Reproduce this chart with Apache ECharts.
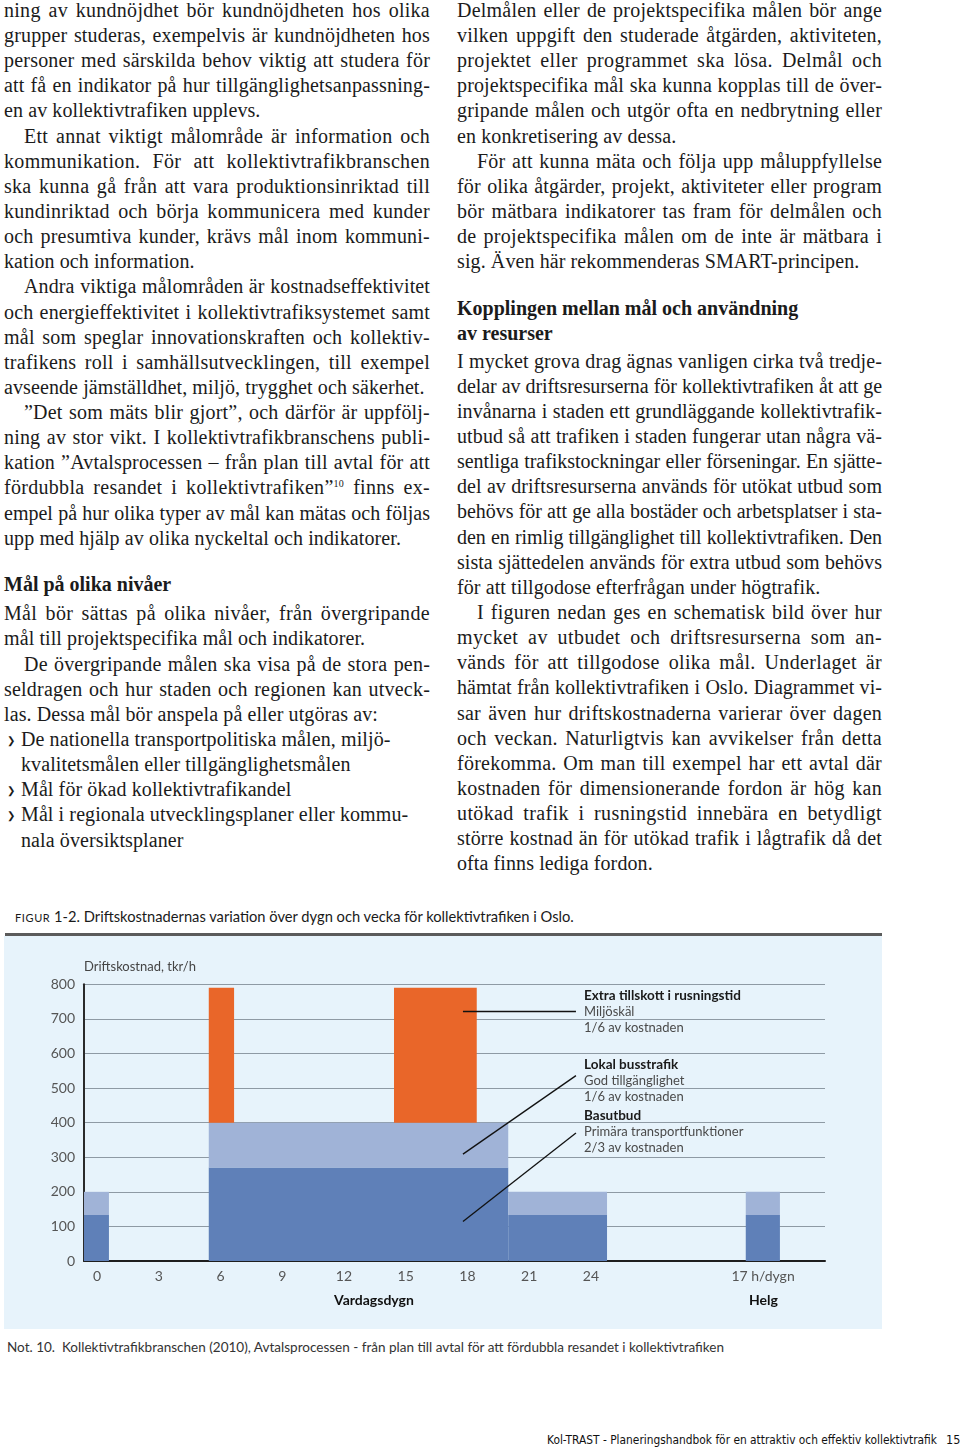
<!DOCTYPE html>
<html><head><meta charset="utf-8">
<script src="https://cdn.jsdelivr.net/npm/echarts@6/dist/echarts.min.js"></script>
<style>
html,body{margin:0;padding:0}
body{width:960px;height:1447px;position:relative;background:#fff;overflow:hidden}
.col{position:absolute;top:-2.2px;font-family:"Liberation Serif",serif;font-size:20px;line-height:25.14px;color:#1b1b1b}
#lc{left:4px;width:426px}
#rc{left:457px;width:425px}
.l{white-space:nowrap;position:relative}
.t{white-space:nowrap;letter-spacing:0.1px}
.ind{padding-left:20px}
.h{font-weight:bold;font-size:20px;white-space:nowrap}
.bl{padding-left:17px}
.bm{position:absolute;left:3px;top:1px;font-family:"DejaVu Sans",sans-serif;font-size:10px;color:#1b1b1b}
sup{font-size:10px;line-height:0;vertical-align:7px}
#cap{position:absolute;left:15px;top:907px;font-family:Lato,sans-serif;font-size:14.7px;line-height:18px;color:#1a1a1a;white-space:nowrap}
#cap .sc{font-variant:small-caps;letter-spacing:0.6px;font-size:15px}
#rule{position:absolute;left:5px;top:933px;width:877px;height:2.5px;background:#5b5b5b}
#chart{position:absolute;left:4px;top:936px;width:878px;height:393px}
#note{position:absolute;left:7px;top:1339px;font-family:Lato,sans-serif;font-size:13px;line-height:16px;color:#333;white-space:nowrap;transform-origin:0 0}
#foot{position:absolute;left:547px;top:1432px;font-family:"Liberation Sans Narrow","DejaVu Sans Condensed",sans-serif;font-size:12.5px;line-height:16px;color:#111;white-space:nowrap;transform-origin:0 0}
#pg{position:absolute;left:946px;top:1432px;font-family:"Liberation Sans Narrow","DejaVu Sans Condensed",sans-serif;font-size:12.5px;line-height:16px;color:#111}
</style></head>
<body>
<div id="lc" class="col">
<div class="l j">ning av kundnöjdhet bör kundnöjdheten hos olika</div>
<div class="l j">grupper studeras, exempelvis är kundnöjdheten hos</div>
<div class="l j">personer med särskilda behov viktig att studera för</div>
<div class="l j">att få en indikator på hur tillgänglighetsanpassning-</div>
<div class="l">en av kollektivtrafiken upplevs.</div>
<div class="l j ind">Ett annat viktigt målområde är information och</div>
<div class="l j">kommunikation. För att kollektivtrafikbranschen</div>
<div class="l j">ska kunna gå från att vara produktionsinriktad till</div>
<div class="l j">kundinriktad och börja kommunicera med kunder</div>
<div class="l j">och presumtiva kunder, krävs mål inom kommuni-</div>
<div class="l">kation och information.</div>
<div class="l j ind">Andra viktiga målområden är kostnadseffektivitet</div>
<div class="l j">och energieffektivitet i kollektivtrafiksystemet samt</div>
<div class="l j">mål som speglar innovationskraften och kollektiv-</div>
<div class="l j">trafikens roll i samhällsutvecklingen, till exempel</div>
<div class="l">avseende jämställdhet, miljö, trygghet och säkerhet.</div>
<div class="l j ind">”Det som mäts blir gjort”, och därför är uppfölj-</div>
<div class="l j">ning av stor vikt. I kollektivtrafikbranschens publi-</div>
<div class="l j">kation ”Avtalsprocessen – från plan till avtal för att</div>
<div class="l j">fördubbla resandet i kollektivtrafiken”<sup>10</sup> finns ex-</div>
<div class="l j">empel på hur olika typer av mål kan mätas och följas</div>
<div class="l">upp med hjälp av olika nyckeltal och indikatorer.</div>
<div class="h" style="margin-top:21px;margin-bottom:4.2px;line-height:25.14px">Mål på olika nivåer</div>
<div class="l j">Mål bör sättas på olika nivåer, från övergripande</div>
<div class="l">mål till projektspecifika mål och indikatorer.</div>
<div class="l j ind">De övergripande målen ska visa på de stora pen-</div>
<div class="l j">seldragen och hur staden och regionen kan utveck-</div>
<div class="l">las. Dessa mål bör anspela på eller utgöras av:</div>
<div class="l bl"><span class="bm">❯</span>De nationella transportpolitiska målen, miljö-</div>
<div class="l bl">kvalitetsmålen eller tillgänglighetsmålen</div>
<div class="l bl"><span class="bm">❯</span>Mål för ökad kollektivtrafikandel</div>
<div class="l bl"><span class="bm">❯</span>Mål i regionala utvecklingsplaner eller kommu-</div>
<div class="l bl">nala översiktsplaner</div>
</div>

<div id="rc" class="col">
<div class="l j">Delmålen eller de projektspecifika målen bör ange</div>
<div class="l j">vilken uppgift den studerade åtgärden, aktiviteten,</div>
<div class="l j">projektet eller programmet ska lösa. Delmål och</div>
<div class="l j">projektspecifika mål ska kunna kopplas till de över-</div>
<div class="l j">gripande målen och utgör ofta en nedbrytning eller</div>
<div class="l">en konkretisering av dessa.</div>
<div class="l j ind">För att kunna mäta och följa upp måluppfyllelse</div>
<div class="l j">för olika åtgärder, projekt, aktiviteter eller program</div>
<div class="l j">bör mätbara indikatorer tas fram för delmålen och</div>
<div class="l j">de projektspecifika målen om de inte är mätbara i</div>
<div class="l">sig. Även här rekommenderas SMART-principen.</div>
<div class="h" style="margin-top:21.8px;margin-bottom:2.1px;line-height:25.14px">Kopplingen mellan mål och användning<br>av resurser</div>
<div class="l j">I mycket grova drag ägnas vanligen cirka två tredje-</div>
<div class="l j">delar av driftsresurserna för kollektivtrafiken åt att ge</div>
<div class="l j">invånarna i staden ett grundläggande kollektivtrafik-</div>
<div class="l j">utbud så att trafiken i staden fungerar utan några vä-</div>
<div class="l j">sentliga trafikstockningar eller förseningar. En sjätte-</div>
<div class="l j">del av driftsresurserna används för utökat utbud som</div>
<div class="l j">behövs för att ge alla bostäder och arbetsplatser i sta-</div>
<div class="l j">den en rimlig tillgänglighet till kollektivtrafiken. Den</div>
<div class="l j">sista sjättedelen används för extra utbud som behövs</div>
<div class="l">för att tillgodose efterfrågan under högtrafik.</div>
<div class="l j ind">I figuren nedan ges en schematisk bild över hur</div>
<div class="l j">mycket av utbudet och driftsresurserna som an-</div>
<div class="l j">vänds för att tillgodose olika mål. Underlaget är</div>
<div class="l j">hämtat från kollektivtrafiken i Oslo. Diagrammet vi-</div>
<div class="l j">sar även hur driftskostnaderna varierar över dagen</div>
<div class="l j">och veckan. Naturligtvis kan avvikelser från detta</div>
<div class="l j">förekomma. Om man till exempel har ett avtal där</div>
<div class="l j">kostnaden för dimensionerande fordon är hög kan</div>
<div class="l j">utökad trafik i rusningstid innebära en betydligt</div>
<div class="l j">större kostnad än för utökad trafik i lågtrafik då det</div>
<div class="l">ofta finns lediga fordon.</div>
</div>

<div id="cap"><span class="sc">figur</span> 1-2. Driftskostnadernas variation över dygn och vecka för kollektivtrafiken i Oslo.</div>
<div id="rule"></div>
<div id="chart"></div>
<div id="note">Not. 10.&nbsp; Kollektivtrafikbranschen (2010), Avtalsprocessen - från plan till avtal för att fördubbla resandet i kollektivtrafiken</div>
<div id="foot">Kol-TRAST - Planeringshandbok för en attraktiv och effektiv kollektivtrafik</div>
<div id="pg">15</div>

<script>
// ---- data ----
const blockStart = [-0.632, 5.43, 19.98, 31.52];
const blockEnd   = [0.58, 19.98, 24.78, 33.18];
const basutbud   = [133, 270, 133, 133];
const lokalTop   = [200, 400, 200, 200];
const rushStart  = [5.43, 14.43];
const rushEnd    = [6.66, 18.45];
const rushBase   = [400, 400];
const rushTop    = [790, 790];
const xTickValues = [0, 3, 6, 9, 12, 15, 18, 21, 24, 32.36];
const xTickLabels = ['0', '3', '6', '9', '12', '15', '18', '21', '24', '17 h/dygn'];
const leaderFrom = [[17.78, 723], [17.78, 309], [17.78, 114]];
const leaderTo   = [[23.27, 723], [23.27, 536], [23.27, 370]];
const noteTitles = ['Extra tillskott i rusningstid', 'Lokal busstrafik', 'Basutbud'];
const noteLine1  = ['Miljöskäl', 'God tillgänglighet', 'Primära transportfunktioner'];
const noteLine2  = ['1/6 av kostnaden', '1/6 av kostnaden', '2/3 av kostnaden'];
const noteTop    = [61, 130, 181];

// ---- text fitting ----
function fitLines(){
  document.querySelectorAll('.l').forEach(el => {
    const marker = el.querySelector('.bm');
    if (marker) marker.remove();
    el.innerHTML = '<span class="t">' + el.innerHTML.trim() + '</span>';
    if (marker) el.insertBefore(marker, el.firstChild);
    const span = el.querySelector('.t');
    const cs = getComputedStyle(el);
    const W = el.clientWidth - parseFloat(cs.paddingLeft);
    let w = span.getBoundingClientRect().width;
    const txt = span.textContent;
    const n = txt.length;
    const ns = (txt.match(/ /g) || []).length;
    let ls = 0.1;
    if (w > W) {
      ls = 0.1 - (w - W + 2) / n;
      span.style.letterSpacing = ls + 'px';
      w = span.getBoundingClientRect().width;
    } else if (el.classList.contains('j')) {
      const add = Math.min(0.35, (W - w) * 0.35 / n);
      ls = 0.1 + add;
      span.style.letterSpacing = ls + 'px';
      w = span.getBoundingClientRect().width;
    }
    if (el.classList.contains('j') && ns > 0) {
      span.style.wordSpacing = ((W - w) / ns) + 'px';
    }
  });
  function scaleTo(id, target){
    const el = document.getElementById(id);
    const w = el.getBoundingClientRect().width;
    el.style.transform = 'scaleX(' + (target / w) + ')';
  }
  scaleTo('note', 717);
  scaleTo('foot', 390);
}
fitLines();

// ---- chart ----
const blockBase = blockStart.map((s, i) => [s, blockEnd[i], 0, basutbud[i]]);
const blockLokal = blockStart.map((s, i) => [s, blockEnd[i], basutbud[i], lokalTop[i]]);
const blockRush = rushStart.map((s, i) => [s, rushEnd[i], rushBase[i], rushTop[i]]);

function rectRender(color){
  return function(params, api){
    const p0 = api.coord([api.value(0), api.value(2)]);
    const p1 = api.coord([api.value(1), api.value(3)]);
    return {type: 'rect', shape: {x: p0[0], y: p1[1], width: p1[0] - p0[0], height: p0[1] - p1[1]}, style: {fill: color}};
  };
}

const graphics = [];
noteTitles.forEach((t, i) => {
  graphics.push({type: 'text', left: 580, top: noteTop[i] - 8, style: {text: t, font: 'bold 13.5px Lato', fill: '#1a1a1a'}});
  graphics.push({type: 'text', left: 580, top: noteTop[i] + 8, style: {text: noteLine1[i], font: '13px Lato', fill: '#4a4a4a'}});
  graphics.push({type: 'text', left: 580, top: noteTop[i] + 24, style: {text: noteLine2[i], font: '13px Lato', fill: '#4a4a4a'}});
});
graphics.push({type: 'text', left: 330, top: 357, style: {text: 'Vardagsdygn', font: 'bold 14px Lato', fill: '#111'}});
graphics.push({type: 'text', left: 745, top: 357, style: {text: 'Helg', font: 'bold 14px Lato', fill: '#111'}});

const chart = echarts.init(document.getElementById('chart'), null, {renderer: 'canvas'});
chart.setOption({
  backgroundColor: '#e7f3fb',
  animation: false,
  textStyle: {fontFamily: 'Lato'},
  grid: {left: 80, right: 57, top: 48.3, bottom: 68, containLabel: false},
  xAxis: {
    type: 'value', min: -0.632, max: 35.37,
    axisLine: {show: true, onZero: false, lineStyle: {color: '#1e1e1e', width: 2}},
    axisTick: {show: false},
    splitLine: {show: false},
    axisLabel: {
      customValues: xTickValues, margin: 8, color: '#555', fontSize: 14, fontFamily: 'Lato',
      formatter: v => { let k = 0, d = 1e9; xTickValues.forEach((x, i) => { if (Math.abs(x - v) < d) { d = Math.abs(x - v); k = i; } }); return xTickLabels[k]; }
    }
  },
  yAxis: {
    type: 'value', min: 0, max: 800, interval: 100,
    name: 'Driftskostnad, tkr/h', nameLocation: 'end', nameGap: 11,
    nameTextStyle: {align: 'left', color: '#444', fontSize: 13, fontFamily: 'Lato'},
    axisLine: {show: true, onZero: false, lineStyle: {color: '#2a2a2a', width: 2}},
    axisTick: {show: false},
    splitLine: {show: true, lineStyle: {color: '#8e9aa4', width: 1.2}},
    axisLabel: {margin: 9, color: '#555', fontSize: 14, fontFamily: 'Lato'}
  },
  series: [
    {type: 'custom', name: 'Basutbud', renderItem: rectRender('#5f80b8'), data: blockBase, encode: {x: [0, 1], y: [2, 3]}, z: 2},
    {type: 'custom', name: 'Lokal busstrafik', renderItem: rectRender('#a0b3d7'), data: blockLokal, encode: {x: [0, 1], y: [2, 3]}, z: 2},
    {type: 'custom', name: 'Extra tillskott i rusningstid', renderItem: rectRender('#e96629'), data: blockRush, encode: {x: [0, 1], y: [2, 3]}, z: 2},
    {type: 'lines', coordinateSystem: 'cartesian2d', silent: true, z: 5,
     lineStyle: {color: '#111', width: 1.3, opacity: 1},
     data: leaderFrom.map((p, i) => ({coords: [p, leaderTo[i]]}))}
  ],
  graphic: graphics
});
</script>
</body></html>
